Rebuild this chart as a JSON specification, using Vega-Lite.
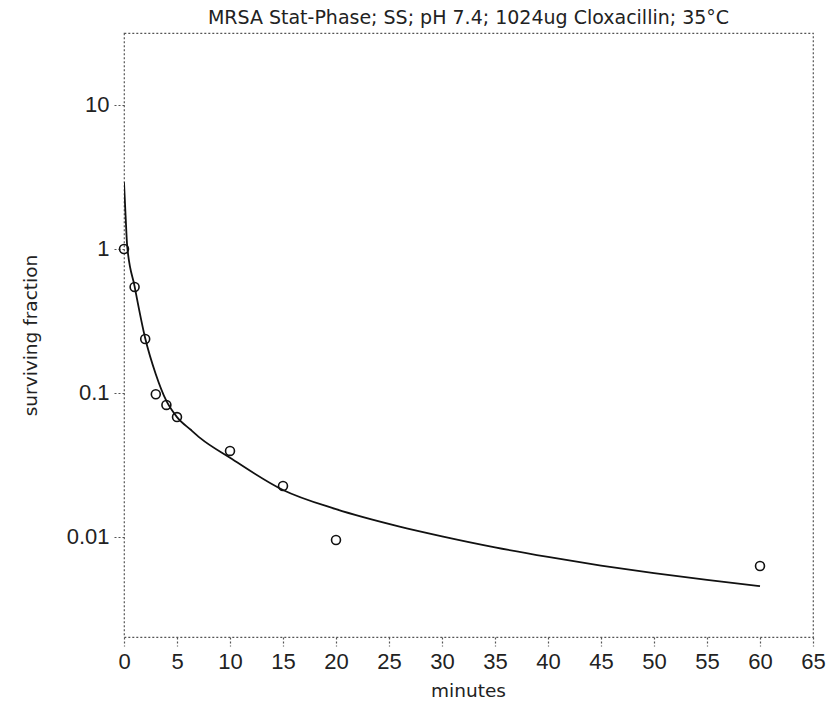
{
  "$schema": "https://vega.github.io/schema/vega-lite/v6.json",
  "autosize": "none",
  "width": 689,
  "height": 604,
  "padding": {"left": 124, "top": 33, "right": 17, "bottom": 72},
  "background": "white",
  "config": {
    "view": {"stroke": "#555", "strokeDash": [2, 2], "strokeWidth": 1.2},
    "font": "DejaVu Sans"
  },
  "title": {
    "text": "MRSA Stat-Phase; SS; pH 7.4; 1024ug Cloxacillin; 35°C",
    "fontSize": 19,
    "font": "DejaVu Sans",
    "fontWeight": "normal",
    "color": "#222",
    "anchor": "middle",
    "frame": "group",
    "baseline": "bottom",
    "offset": 6,
    "dy": 20
  },
  "datasets": {
    "obs": [
      {"minutes": 0, "fraction": 1.0},
      {"minutes": 1, "fraction": 0.545},
      {"minutes": 2, "fraction": 0.237},
      {"minutes": 3, "fraction": 0.098},
      {"minutes": 4, "fraction": 0.0826},
      {"minutes": 5, "fraction": 0.068},
      {"minutes": 10, "fraction": 0.0396},
      {"minutes": 15, "fraction": 0.0226},
      {"minutes": 20, "fraction": 0.00953},
      {"minutes": 60, "fraction": 0.00629}
    ],
    "fit": [
      {"minutes": 0, "fraction": 2.9},
      {"minutes": 0.15, "fraction": 1.7},
      {"minutes": 0.3, "fraction": 1.05},
      {"minutes": 1, "fraction": 0.55},
      {"minutes": 2, "fraction": 0.24},
      {"minutes": 3, "fraction": 0.135},
      {"minutes": 4, "fraction": 0.088},
      {"minutes": 5, "fraction": 0.068},
      {"minutes": 6.3, "fraction": 0.0555},
      {"minutes": 7.2, "fraction": 0.0486},
      {"minutes": 10, "fraction": 0.0355},
      {"minutes": 15, "fraction": 0.0212},
      {"minutes": 20, "fraction": 0.0156},
      {"minutes": 26, "fraction": 0.0118},
      {"minutes": 30, "fraction": 0.0101},
      {"minutes": 35, "fraction": 0.00847},
      {"minutes": 40, "fraction": 0.00727},
      {"minutes": 45, "fraction": 0.00633},
      {"minutes": 50, "fraction": 0.0056},
      {"minutes": 55, "fraction": 0.00503},
      {"minutes": 60, "fraction": 0.00456}
    ]
  },
  "encoding": {
    "x": {
      "field": "minutes",
      "type": "quantitative",
      "scale": {"domain": [0, 65], "nice": false, "zero": false},
      "axis": {
        "title": "minutes",
        "values": [0, 5, 10, 15, 20, 25, 30, 35, 40, 45, 50, 55, 60, 65],
        "grid": false,
        "domain": false,
        "ticks": true,
        "tickSize": 9,
        "tickColor": "#555",
        "tickDash": [2, 2],
        "tickWidth": 1.2,
        "labelFontSize": 22,
        "labelFont": "Liberation Sans",
        "labelColor": "#222",
        "labelPadding": 5,
        "labelFlush": false,
        "labelOverlap": false,
        "titleFontSize": 18.5,
        "titleFont": "DejaVu Sans",
        "titleFontWeight": "normal",
        "titleColor": "#222",
        "titleX": 344,
        "titleY": 53,
        "titleAlign": "center",
        "titleBaseline": "middle"
      }
    },
    "y": {
      "field": "fraction",
      "type": "quantitative",
      "scale": {"type": "log", "domain": [0.00202, 31.6], "nice": false},
      "axis": {
        "title": "surviving fraction",
        "values": [0.01, 0.1, 1, 10],
        "format": "~g",
        "grid": false,
        "domain": false,
        "tickSize": 11,
        "tickColor": "#555",
        "tickDash": [2, 2],
        "tickWidth": 1.2,
        "labelFontSize": 22,
        "labelFont": "Liberation Sans",
        "labelColor": "#222",
        "labelPadding": 4,
        "labelFlush": false,
        "titleFontSize": 18.5,
        "titleFont": "DejaVu Sans",
        "titleFontWeight": "normal",
        "titleColor": "#222",
        "titleAngle": 270,
        "titleX": -94,
        "titleY": 302,
        "titleAlign": "center",
        "titleBaseline": "middle"
      }
    }
  },
  "layer": [
    {
      "data": {"name": "fit"},
      "mark": {"type": "line", "color": "#111", "strokeWidth": 1.8, "interpolate": "monotone", "clip": true}
    },
    {
      "data": {"name": "obs"},
      "mark": {"type": "point", "shape": "circle", "filled": false, "color": "#111", "size": 80, "strokeWidth": 1.6, "opacity": 1}
    }
  ]
}
